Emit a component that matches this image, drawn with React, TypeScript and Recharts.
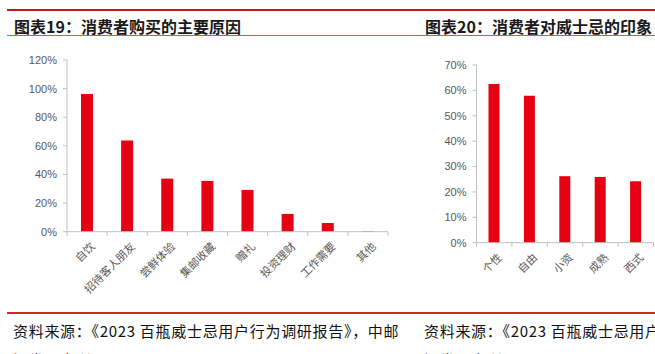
import React from "react"
import { BarChart, Bar, XAxis, YAxis } from "recharts"

const reasons = ["自饮", "招待客人朋友", "尝鲜体验", "集邮收藏", "赠礼", "投资理财", "工作需要", "其他"]
const reasonShares = [96.2, 63.7, 37.1, 35.5, 29.2, 12.4, 6.1, 0.4]
const reasonTicks = [0, 20, 40, 60, 80, 100, 120]

const impressions = ["个性", "自由", "小资", "成熟", "西式"]
const impressionShares = [62.5, 57.9, 26.2, 25.9, 24.2]
const impressionTicks = [0, 10, 20, 30, 40, 50, 60, 70]

const RED = "#e50012"
const AXIS = "#bfbfbf"
const LABEL = "#595959"
const CJK = '"Noto Sans CJK SC", "Noto Sans", sans-serif'
const LATIN = '"Liberation Sans", Arial, sans-serif'

const pct = (v: number) => `${v}%`

function makeTick(band: number, count: number) {
  // eslint-disable-next-line @typescript-eslint/no-explicit-any
  return function CategoryTick(props: any) {
    const { x, y, payload, index } = props
    const left = x - band / 2
    return (
      <g>
        <line x1={left} y1={y} x2={left} y2={y + 4} stroke={AXIS} />
        {index === count - 1 && <line x1={x + band / 2} y1={y} x2={x + band / 2} y2={y + 4} stroke={AXIS} />}
        <text
          transform={`translate(${x + 5},${y + 12}) rotate(-45)`}
          textAnchor="end"
          dominantBaseline="central"
          fontSize={11}
          fill={LABEL}
          fontFamily={CJK}
        >
          {payload.value}
        </text>
      </g>
    )
  }
}

function Panel({
  title,
  left,
  width,
  children,
}: {
  title: string
  left: number
  width: number
  children: React.ReactNode
}) {
  return (
    <div style={{ position: "absolute", left, top: 0, width, height: 354, overflow: "hidden" }}>
      <div
        style={{
          position: "absolute",
          left: 14,
          top: 15,
          fontFamily: CJK,
          fontWeight: 700,
          fontSize: 16,
          color: "#1a1a1a",
          whiteSpace: "nowrap",
          lineHeight: "22px",
        }}
      >
        {title}
      </div>
      {children}
      <div
        style={{
          position: "absolute",
          left: 13,
          top: 316,
          fontFamily: CJK,
          fontSize: 15,
          color: "#111",
          whiteSpace: "nowrap",
          lineHeight: "29px",
          letterSpacing: 0.7,
        }}
      >
        资料来源：《2023 百瓶威士忌用户行为调研报告》，中邮
        <br />
        证券研究所
      </div>
    </div>
  )
}

export default function App() {
  const reasonData = reasons.map((name, i) => ({ name, value: reasonShares[i] }))
  const impressionData = impressions.map((name, i) => ({ name, value: impressionShares[i] }))

  const leftBand = (388 - 67) / reasons.length
  const rightBand = (653.5 - 476.5) / impressions.length

  return (
    <div
      style={{
        position: "absolute",
        left: 0,
        top: 0,
        width: 655,
        height: 354,
        overflow: "hidden",
        background: "#fff",
      }}
    >
      <div style={{ position: "absolute", left: 7, top: 9, width: 660, height: 2, background: "#c8161d" }} />
      <div style={{ position: "absolute", left: 7, top: 35, width: 660, height: 1, background: "#d9534f" }} />
      <div style={{ position: "absolute", left: 7, top: 312, width: 660, height: 1.5, background: "#d0282e" }} />

      <Panel title="图表19：消费者购买的主要原因" left={0} width={402}>
        <div style={{ position: "absolute", left: 0, top: 0 }}>
          <BarChart
            width={400}
            height={310}
            data={reasonData}
            margin={{ top: 60, right: 12, left: 0, bottom: 0 }}
          >
            <YAxis
              width={67}
              domain={[0, 120]}
              ticks={reasonTicks}
              tickFormatter={pct}
              axisLine={{ stroke: AXIS }}
              tickLine={{ stroke: AXIS }}
              tickSize={4}
              tickMargin={6}
              tick={{ fontSize: 11, fill: LABEL, fontFamily: LATIN }}
              interval={0}
            />
            <XAxis
              dataKey="name"
              height={78.3}
              axisLine={{ stroke: AXIS }}
              tickLine={false}
              tickSize={0}
              tickMargin={0}
              interval={0}
              tick={makeTick(leftBand, reasons.length)}
            />
            <Bar dataKey="value" fill={RED} barSize={12} isAnimationActive={false} />
          </BarChart>
        </div>
      </Panel>

      <Panel title="图表20：消费者对威士忌的印象" left={411} width={260}>
        <div style={{ position: "absolute", left: -11, top: 0 }}>
          <BarChart
            width={256}
            height={310}
            data={impressionData}
            margin={{ top: 65, right: 2.5, left: 0, bottom: 0 }}
          >
            <YAxis
              width={76.5}
              domain={[0, 70]}
              ticks={impressionTicks}
              tickFormatter={pct}
              axisLine={{ stroke: AXIS }}
              tickLine={{ stroke: AXIS }}
              tickSize={4}
              tickMargin={6}
              tick={{ fontSize: 11, fill: LABEL, fontFamily: LATIN }}
              interval={0}
            />
            <XAxis
              dataKey="name"
              height={67.3}
              axisLine={{ stroke: AXIS }}
              tickLine={false}
              tickSize={0}
              tickMargin={0}
              interval={0}
              tick={makeTick(rightBand, impressions.length)}
            />
            <Bar dataKey="value" fill={RED} barSize={11} isAnimationActive={false} />
          </BarChart>
        </div>
      </Panel>
    </div>
  )
}
